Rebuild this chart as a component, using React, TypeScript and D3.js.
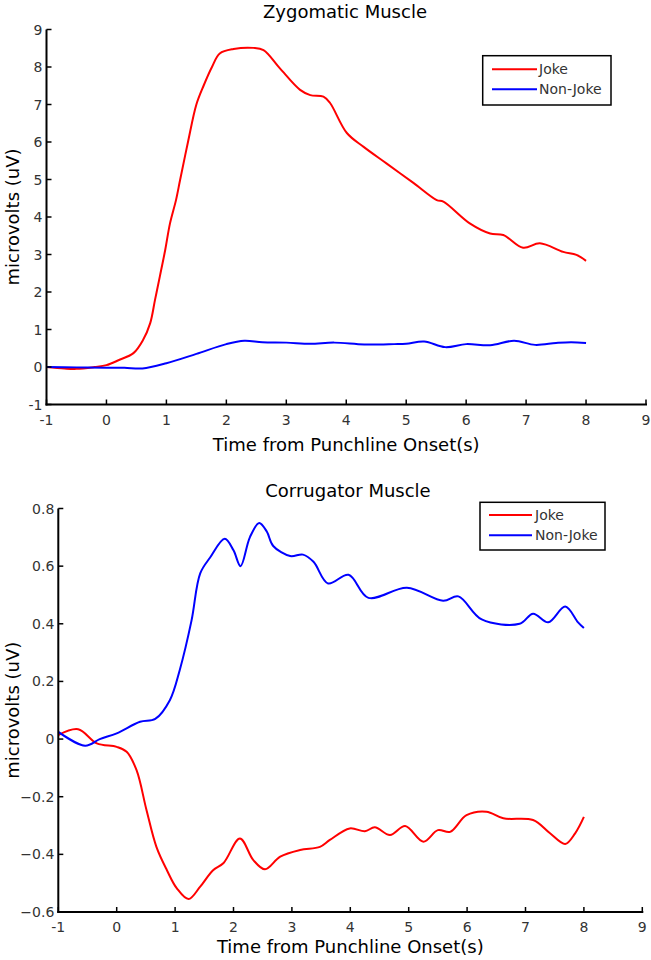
import React from "react";
import * as d3 from "d3";

// ---- Data ----
const zygJokeT = [-1, -0.7, -0.5, -0.2, 0, 0.2, 0.45, 0.61, 0.73, 0.81, 0.89, 0.98, 1.06, 1.16, 1.23, 1.36, 1.5, 1.62, 1.76, 1.89, 2.12, 2.45, 2.62, 2.89, 3.23, 3.4, 3.62, 3.73, 4.01, 4.29, 4.67, 5.12, 5.51, 5.62, 6.06, 6.4, 6.62, 6.95, 7.23, 7.62, 7.84, 8.0];
const zygJokeV = [0, -0.04, -0.05, 0.0, 0.05, 0.18, 0.37, 0.72, 1.17, 1.79, 2.41, 3.12, 3.83, 4.45, 5.0, 6.0, 7.0, 7.5, 8.0, 8.36, 8.48, 8.51, 8.45, 7.97, 7.39, 7.25, 7.21, 7.04, 6.24, 5.87, 5.43, 4.91, 4.45, 4.41, 3.83, 3.56, 3.52, 3.18, 3.3, 3.07, 2.99, 2.83];

const zygNonT = [-1, -0.5, 0, 0.3, 0.6, 1.0, 1.5, 2.0, 2.3, 2.6, 3.0, 3.4, 3.8, 4.3, 4.8, 5.0, 5.3, 5.65, 6.0, 6.4, 6.8, 7.15, 7.5, 7.75, 8.0];
const zygNonV = [0.0, -0.01, -0.02, -0.02, -0.04, 0.1, 0.35, 0.61, 0.7, 0.66, 0.65, 0.62, 0.65, 0.6, 0.61, 0.62, 0.68, 0.53, 0.61, 0.58, 0.7, 0.59, 0.64, 0.66, 0.64];

const corJokeT = [-1, -0.66, -0.34, 0.0, 0.17, 0.34, 0.51, 0.68, 0.86, 1.03, 1.23, 1.43, 1.65, 1.83, 2.11, 2.34, 2.54, 2.8, 3.14, 3.48, 3.65, 3.99, 4.25, 4.42, 4.68, 4.94, 5.25, 5.5, 5.71, 5.99, 6.33, 6.62, 7.13, 7.42, 7.68, 7.85, 8.0];
const corJokeV = [0.014, 0.034, -0.015, -0.027, -0.044, -0.108, -0.246, -0.374, -0.455, -0.518, -0.555, -0.512, -0.455, -0.43, -0.345, -0.42, -0.452, -0.408, -0.385, -0.374, -0.35, -0.31, -0.32, -0.306, -0.333, -0.302, -0.356, -0.316, -0.322, -0.264, -0.252, -0.275, -0.281, -0.327, -0.364, -0.327, -0.27];

const corNonT = [-1, -0.54, -0.29, 0.0, 0.4, 0.66, 0.91, 1.08, 1.28, 1.43, 1.6, 1.85, 2.0, 2.12, 2.28, 2.44, 2.57, 2.68, 2.97, 3.19, 3.37, 3.62, 3.97, 4.31, 4.97, 5.59, 5.85, 6.25, 6.9, 7.13, 7.39, 7.68, 7.9, 8.0];
const corNonV = [0.025, -0.023, 0.0, 0.02, 0.06, 0.07, 0.135, 0.24, 0.41, 0.575, 0.63, 0.695, 0.655, 0.6, 0.7, 0.75, 0.72, 0.67, 0.635, 0.64, 0.615, 0.54, 0.57, 0.49, 0.525, 0.48, 0.495, 0.415, 0.4, 0.435, 0.405, 0.46, 0.405, 0.385];

const xTicks = [-1, 0, 1, 2, 3, 4, 5, 6, 7, 8, 9];
const zygYTicks = [-1, 0, 1, 2, 3, 4, 5, 6, 7, 8, 9];
const corYTicks = [-0.6, -0.4, -0.2, 0, 0.2, 0.4, 0.6, 0.8];
const seriesNames = ["Joke", "Non-Joke"];
const seriesColors = ["#ff0000", "#0000ff"];

const FONT = "'DejaVu Sans', Verdana, sans-serif";

type PanelProps = {
  title: string;
  x0: number; x1: number; yTop: number; yBot: number;
  yDomain: [number, number];
  yTicks: number[];
  yFmt: (v: number) => string;
  series: { t: number[]; v: number[] }[];
  titleY: number; titleX: number;
  xlabY: number;
  legend: { x: number; y: number; w: number; h: number; l0: number; l1: number; r0: number; r1: number; tx: number };
  ylabX: number;
};

function Panel(p: PanelProps) {
  const x = d3.scaleLinear().domain([-1, 9]).range([p.x0, p.x1]);
  const y = d3.scaleLinear().domain(p.yDomain).range([p.yBot, p.yTop]);
  const line = d3.line<[number, number]>()
    .x((d) => x(d[0]))
    .y((d) => y(d[1]))
    .curve(d3.curveCatmullRom.alpha(0.5));
  const tick = 5;
  return (
    <g>
      <text x={p.titleX} y={p.titleY} textAnchor="middle" fontSize={18} fill="#000" fontFamily={FONT}>{p.title}</text>
      {p.series.map((s, i) => (
        <path key={i} d={line(s.t.map((t, j) => [t, s.v[j]] as [number, number])) || ""} fill="none" stroke={seriesColors[i]} strokeWidth={2} strokeLinejoin="round" />
      ))}
      {/* axes */}
      <line x1={p.x0} x2={p.x0} y1={p.yTop} y2={p.yBot + 1} stroke="#000" strokeWidth={2} />
      <line x1={p.x0 - 1} x2={p.x1 + 1} y1={p.yBot} y2={p.yBot} stroke="#000" strokeWidth={2} />
      {xTicks.map((t) => (
        <g key={"x" + t}>
          <line x1={x(t)} x2={x(t)} y1={p.yBot} y2={p.yBot - tick} stroke="#000" strokeWidth={1.5} />
          <text x={x(t)} y={p.yBot + 20} textAnchor="middle" fontSize={14} fill="#333" fontFamily={FONT}>{t}</text>
        </g>
      ))}
      {p.yTicks.map((t) => (
        <g key={"y" + t}>
          <line x1={p.x0} x2={p.x0 + tick} y1={y(t)} y2={y(t)} stroke="#000" strokeWidth={1.5} />
          <text x={p.x0 - 4} y={y(t)} dy="0.36em" textAnchor="end" fontSize={14} fill="#333" fontFamily={FONT}>{p.yFmt(t)}</text>
        </g>
      ))}
      <text x={(p.x0 + p.x1) / 2} y={p.xlabY} textAnchor="middle" fontSize={18} fill="#000" fontFamily={FONT}>Time from Punchline Onset(s)</text>
      <text transform={`translate(${p.ylabX},${(p.yTop + p.yBot) / 2}) rotate(-90)`} textAnchor="middle" dy="0.36em" fontSize={18} fill="#000" fontFamily={FONT}>microvolts (uV)</text>
      {/* legend */}
      <rect x={p.legend.x} y={p.legend.y} width={p.legend.w} height={p.legend.h} fill="#fff" stroke="#000" strokeWidth={1.5} />
      {seriesNames.map((n, i) => {
        const ly = i === 0 ? p.legend.r0 : p.legend.r1;
        return (
          <g key={n}>
            <line x1={p.legend.l0} x2={p.legend.l1} y1={ly} y2={ly} stroke={seriesColors[i]} strokeWidth={2} />
            <text x={p.legend.tx} y={ly} dy="0.36em" fontSize={14} fill="#333" fontFamily={FONT}>{n}</text>
          </g>
        );
      })}
    </g>
  );
}

export default function App() {
  return (
    <svg width={651} height={960} style={{ position: "absolute", left: 0, top: 0, background: "#fff" }}>
      <rect width={651} height={960} fill="#fff" />
      <Panel
        title="Zygomatic Muscle"
        x0={46.5} x1={646} yTop={29.5} yBot={404.5}
        yDomain={[-1, 9]}
        yTicks={zygYTicks}
        yFmt={(v) => String(v)}
        series={[{ t: zygJokeT, v: zygJokeV }, { t: zygNonT, v: zygNonV }]}
        titleX={345} titleY={18}
        xlabY={451}
        legend={{ x: 482.7, y: 55.7, w: 128.3, h: 49.3, l0: 492, l1: 537, r0: 69.3, r1: 89.3, tx: 539 }}
        ylabX={13}
      />
      <Panel
        title="Corrugator Muscle"
        x0={58.3} x1={642.3} yTop={508.5} yBot={912}
        yDomain={[-0.6, 0.8]}
        yTicks={corYTicks}
        yFmt={(v) => (Math.abs(v) < 1e-9 ? "0" : d3.format(".1f")(v))}
        series={[{ t: corJokeT, v: corJokeV }, { t: corNonT, v: corNonV }]}
        titleX={348} titleY={497}
        xlabY={953}
        legend={{ x: 480, y: 502.3, w: 125, h: 47.7, l0: 489, l1: 532, r0: 515, r1: 535.3, tx: 535 }}
        ylabX={13}
      />
    </svg>
  );
}
